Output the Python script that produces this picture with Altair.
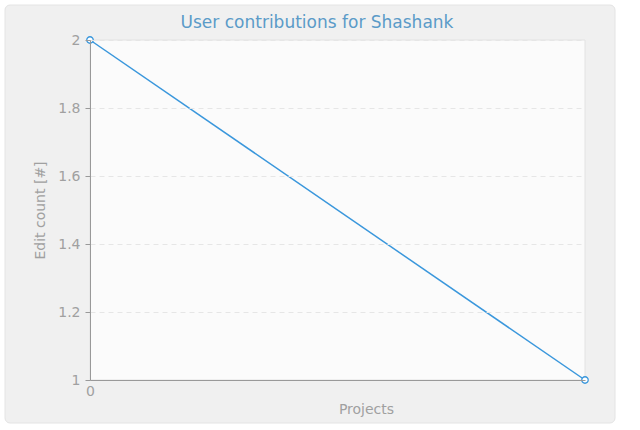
import altair as alt
import pandas as pd

projects = [0, 1]
edits = [2, 1]
title_text = "User contributions for Shashank"

df = pd.DataFrame({"project": projects, "edits": edits})

W, H = 495, 340

panel = alt.Chart(pd.DataFrame({"a": [0]})).mark_rect(
    fill="#f0f0f0", stroke="#e4e4e4", strokeWidth=1, cornerRadius=5, clip=False
).encode(
    x=alt.value(-85), x2=alt.value(525), y=alt.value(-35), y2=alt.value(383)
)

plotbg = alt.Chart(pd.DataFrame({"a": [0]})).mark_rect(
    fill="#fbfbfb", stroke="#e2e2e2", strokeWidth=1
).encode(
    x=alt.value(0), x2=alt.value(W), y=alt.value(0), y2=alt.value(H)
)

title = alt.Chart(pd.DataFrame({"t": [title_text]})).mark_text(
    color="#5b9bc8", fontSize=17, font="DejaVu Sans", align="center",
    baseline="middle", clip=False
).encode(text="t:N", x=alt.value(227), y=alt.value(-17))

base = alt.Chart(df)

xenc = alt.X(
    "project:Q",
    scale=alt.Scale(domain=[0, 1], nice=False, zero=False),
    axis=alt.Axis(
        title="Projects", values=[0], format="d", ticks=False, grid=False,
        labelFlush=False, labelFontSize=14, labelColor="#a0a0a0", labelPadding=4,
        titleFontSize=14, titleColor="#a0a0a0", titleFontWeight="normal",
        titlePadding=4, titleX=276, domainColor="#999999",
        labelFont="DejaVu Sans", titleFont="DejaVu Sans", zindex=1,
    ),
)
yenc = alt.Y(
    "edits:Q",
    scale=alt.Scale(domain=[1, 2], nice=False, zero=False),
    axis=alt.Axis(
        title="Edit count [#]", values=[1, 1.2, 1.4, 1.6, 1.8, 2], format=".2~f",
        grid=True, gridColor="#e6e6e6", gridDash=[5, 4],
        tickColor="#999999", tickSize=5, domainColor="#999999",
        labelFontSize=14, labelColor="#a0a0a0", labelPadding=5,
        titleFontSize=14, titleColor="#a0a0a0", titleFontWeight="normal",
        titlePadding=10, labelFont="DejaVu Sans", titleFont="DejaVu Sans", zindex=1,
    ),
)

line = base.mark_line(color="#3a97dc", strokeWidth=1.5, clip=False).encode(x=xenc, y=yenc)
pts = base.mark_point(
    shape="circle", filled=True, fill="white", stroke="#3a97dc",
    strokeWidth=1.3, size=42, opacity=1, clip=False
).encode(x="project:Q", y="edits:Q")

chart = alt.layer(panel, plotbg, title, line, pts).properties(
    width=W, height=H,
    padding={"left": 90, "top": 40, "right": 55, "bottom": 50},
    autosize=alt.AutoSizeParams(type="none"),
    background="white",
).configure_view(stroke=None)

chart.save("out.html", embed_options={"renderer": "svg", "actions": False})
